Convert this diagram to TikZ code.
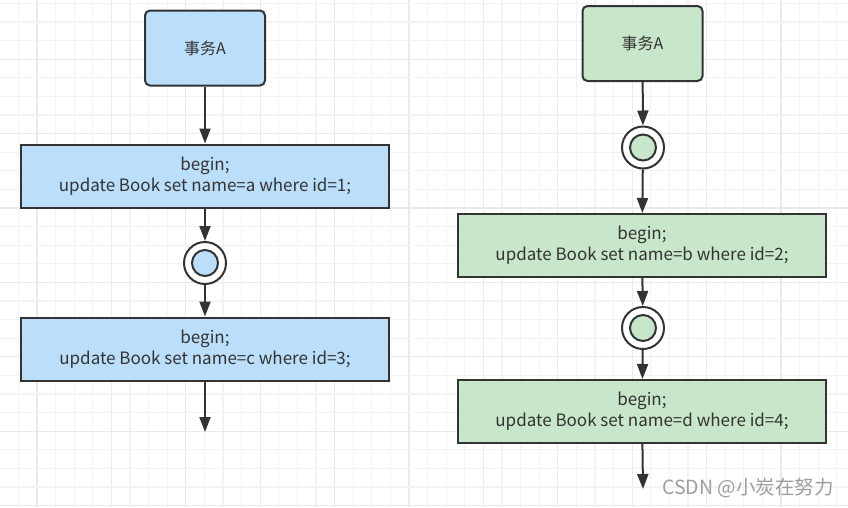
\documentclass[tikz,border=0pt]{standalone}
\usepackage{fontspec}
\setmainfont{Noto Sans CJK SC}
\usetikzlibrary{arrows.meta}
\definecolor{bluefill}{RGB}{187,222,251}
\definecolor{greenfill}{RGB}{200,230,201}
\definecolor{edgecol}{RGB}{51,51,51}
\definecolor{gridminor}{RGB}{243,243,243}
\definecolor{gridmajor}{RGB}{234,234,234}
\tikzset{
  startbox/.style={draw=edgecol, line width=2pt, rounded corners=5pt, minimum width=120pt, minimum height=75pt, inner sep=0pt, text=edgecol, font=\fontsize{16}{19}\selectfont},
  stmtbox/.style={draw=edgecol, line width=2pt, minimum width=368pt, minimum height=63pt, inner sep=0pt, align=center, text=edgecol, font=\fontsize{17}{21}\selectfont},
  outerc/.style={circle, draw=edgecol, line width=2pt, fill=white, minimum size=42pt, inner sep=0pt},
  innerc/.style={circle, draw=edgecol, line width=2pt, minimum size=26pt, inner sep=0pt},
  flow/.style={draw=edgecol, line width=2pt, -{Triangle[length=15pt,width=11pt]}},
}
\begin{document}
\begin{tikzpicture}[x=1pt,y=-1pt]
\useasboundingbox (0,0) rectangle (848,507);
\fill[white] (0,0) rectangle (848,507);
% grid
\foreach \k in {0,...,44}{
  \pgfmathsetmacro{\xx}{18.3+18.6*\k}
  \pgfmathtruncatemacro{\m}{mod(\k,4)}
  \ifnum\m=1 \draw[gridmajor, line width=1.2pt] (\xx,0) -- (\xx,507);
  \else \draw[gridminor, line width=1.2pt] (\xx,0) -- (\xx,507); \fi
}
\foreach \k in {0,...,27}{
  \pgfmathsetmacro{\yy}{3.3+18.6*\k}
  \pgfmathtruncatemacro{\m}{mod(\k,4)}
  \ifnum\m=3 \draw[gridmajor, line width=1.2pt] (0,\yy) -- (848,\yy);
  \else \draw[gridminor, line width=1.2pt] (0,\yy) -- (848,\yy); \fi
}
% left column
\node[startbox, fill=bluefill] (la) at (205,48) {事务A};
\node[stmtbox, fill=bluefill] (l1) at (205,176) {begin;\\update Book set name=a where id=1;};
\node[outerc] (lc) at (205,263) {};
\node[innerc, fill=bluefill] (lci) at (205,263) {};
\node[stmtbox, fill=bluefill] (l2) at (205,349) {begin;\\update Book set name=c where id=3;};
\coordinate (lend) at (205,432);
\draw[flow] (la) -- (l1);
\draw[flow] (l1) -- (lc);
\draw[flow] (lc) -- (l2);
\draw[flow] (l2) -- (lend);
% right column
\node[startbox, fill=greenfill] (ra) at (642.5,43.5) {事务A};
\node[outerc] (rc1) at (643,147.5) {};
\node[innerc, fill=greenfill] (rc1i) at (643,147.5) {};
\node[stmtbox, fill=greenfill] (r1) at (642,245.5) {begin;\\update Book set name=b where id=2;};
\node[outerc] (rc2) at (643,328) {};
\node[innerc, fill=greenfill] (rc2i) at (643,328) {};
\node[stmtbox, fill=greenfill] (r2) at (642,411.5) {begin;\\update Book set name=d where id=4;};
\coordinate (rend) at (643,489);
\draw[flow] (ra) -- (rc1);
\draw[flow] (rc1) -- (r1);
\draw[flow] (r1) -- (rc2);
\draw[flow] (rc2) -- (r2);
\draw[flow] (r2) -- (rend);
% watermark
\node[text=black!38, font=\fontsize{19.5}{22}\selectfont, inner sep=0pt, anchor=east] (wm) at (834,488) {CSDN @小炭在努力};
\end{tikzpicture}
\end{document}
